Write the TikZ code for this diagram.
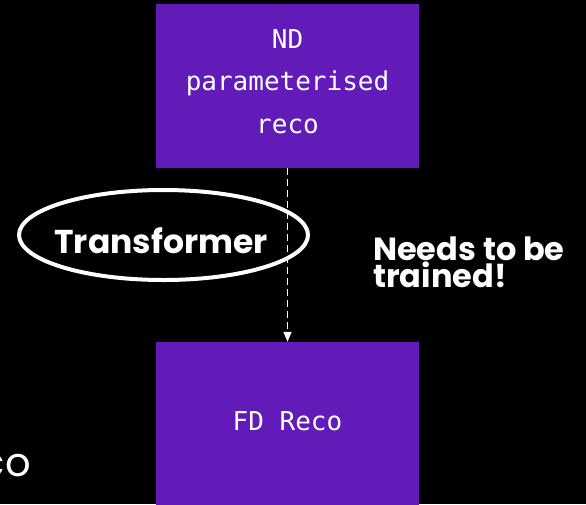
\documentclass[tikz,border=0pt]{standalone}
\usepackage{fontspec}
\setmainfont{Poppins}
\newfontfamily\monof{DejaVu Sans Mono}
\usetikzlibrary{arrows.meta,shapes.geometric}
\definecolor{boxpurple}{RGB}{98,27,184}
\begin{document}
\begin{tikzpicture}[x=1pt,y=-1pt,
  box/.style={fill=boxpurple, draw=none, minimum width=263pt, minimum height=164pt, inner sep=0pt},
  boxtext/.style={text=white, inner sep=0pt, font=\monof\fontsize{26}{42.5}\selectfont, align=center},
  ring/.style={ellipse, draw=white, line width=4pt, minimum width=289pt, minimum height=90pt, inner sep=0pt},
  lbl/.style={text=white, inner sep=0pt, font=\bfseries\fontsize{33}{33}\selectfont},
  note/.style={text=white, inner sep=0pt, align=left, font=\bfseries\fontsize{32}{27}\selectfont},
  flow/.style={white, line width=1.5pt, dash pattern=on 7pt off 4pt, -{Triangle[width=8pt,length=10pt]}}]
\fill[black] (0,0) rectangle (586,504);
\useasboundingbox (0,0) rectangle (586,504);
\node[box] (nd) at (287.5,86) {};
\node[boxtext, anchor=base] (ndtext) at (287.5,133) {ND\\parameterised\\reco};
\node[box] (fd) at (287.5,424) {};
\node[boxtext, anchor=base] (fdtext) at (287.5,430) {FD Reco};
\node[ring] (trf) at (163.5,235) {};
\node[lbl, anchor=base] (trftext) at (161,253) {Transformer};
\node[note, anchor=base west] (needs) at (373,287) {Needs to be\\trained!};
\node[text=white, inner sep=0pt, anchor=base east, font=\fontsize{40}{40}\selectfont] (co) at (31,476) {co};
\draw[flow] (nd.south) -- (fd.north);
\end{tikzpicture}
\end{document}
